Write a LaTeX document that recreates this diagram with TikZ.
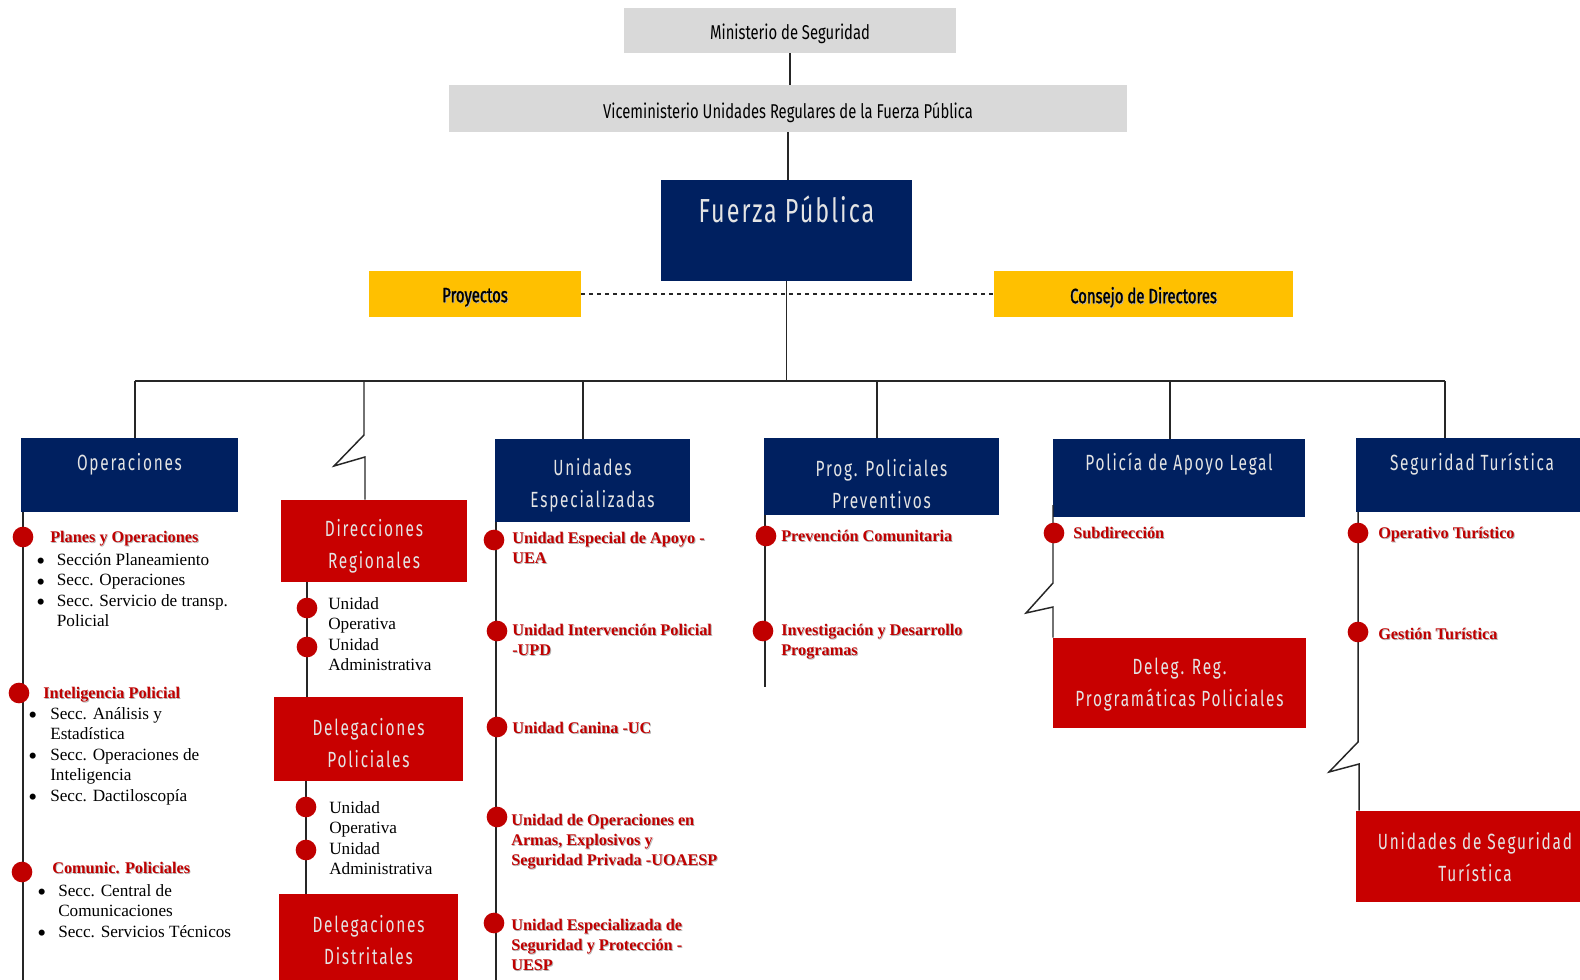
\documentclass[tikz,border=0pt]{standalone}
\usepackage{fontspec}
\setmainfont{Liberation Serif}
\newfontfamily\agency[FakeStretch=0.74]{Fira Sans}
\newfontfamily\agencyb[FakeStretch=0.72,FakeBold=1.2]{Fira Sans}
\newfontfamily\agencysp[FakeStretch=0.70,LetterSpace=8]{Fira Sans}
\newfontfamily\agencyf[FakeStretch=0.70,LetterSpace=6]{Fira Sans}
\definecolor{navy}{RGB}{0,32,96}
\definecolor{rojo}{RGB}{200,0,0}
\definecolor{rtext}{RGB}{192,0,0}
\definecolor{amarillo}{RGB}{255,192,0}
\definecolor{gris}{RGB}{217,217,217}
\definecolor{boxtxt}{RGB}{228,228,228}
\newcommand\blist[2]{\begin{tabular}[t]{@{}p{#1}@{}l@{}}#2\end{tabular}}
\newcommand\rlines[1]{\begin{tabular}[t]{@{}l@{}}#1\end{tabular}}
\newcommand\shad[1]{\makebox[0pt][l]{\raisebox{-0.7pt}{\hspace{0.7pt}\textcolor{black!30}{#1}}}#1}
\newcommand\bul{\smash{\raisebox{-3.6pt}{\fontsize{19}{19}\selectfont\textbullet}}}
\tikzset{
  sz/.style 2 args={minimum width=#1*0.75pt, minimum height=#2*0.75pt},
  graybox/.style={fill=gris, inner sep=0pt},
  yelbox/.style={fill=amarillo, inner sep=0pt},
  navybox/.style={fill=navy, inner sep=0pt},
  redbox/.style={fill=rojo, inner sep=0pt},
  graylbl/.style={text=black, anchor=center, inner sep=0pt, font=\agency\fontsize{15}{17}\selectfont},
  yellbl/.style={text=black, anchor=center, inner sep=0pt, font=\agencyb\fontsize{15.5}{18}\selectfont},
  toplbl/.style={text=boxtxt, anchor=center, inner sep=0pt, align=center, font=\agencysp\fontsize{16.5}{24}\selectfont},
  conn/.style={draw=black!85, line width=1.1pt},
  dashconn/.style={draw=black!85, line width=1pt, dashed},
  dot/.style={circle, fill=rtext, inner sep=0pt, minimum size=15.5pt},
  rt/.style={anchor=base west, inner sep=0pt, yshift=-1.1pt, text=rtext, font=\bfseries\fontsize{12.2}{15}\selectfont},
  bt/.style={anchor=base west, inner sep=0pt, text=black, font=\fontsize{12.9}{15.4}\selectfont},
}
\begin{document}
\begin{tikzpicture}[x=0.75pt,y=-0.75pt]
\useasboundingbox (0,0) rectangle (1580,980);

% top hierarchy
\node[graybox, sz={332}{45}, label={[graylbl, yshift=-26.5*0.75pt]north:Ministerio de Seguridad}] (m) at (790,30.5) {};
\node[graybox, sz={678}{47}, label={[graylbl, yshift=-27.5*0.75pt]north:Viceministerio Unidades Regulares de la Fuerza Pública}] (v) at (788,108.5) {};
\node[navybox, sz={251}{101}, label={[toplbl, font=\agencyf\fontsize{25}{28}\selectfont, yshift=-30*0.75pt]north:Fuerza Pública}] (f) at (786.5,230.5) {};
\node[yelbox, sz={212}{46}, label={[yellbl, yshift=-27*0.75pt]north:\shad{Proyectos}}] (proy) at (475,294) {};
\node[yelbox, sz={299}{46}, label={[yellbl, yshift=-27*0.75pt]north:\shad{Consejo de Directores}}] (cons) at (1143.5,294) {};

\draw[conn] (m.south) -- (m.south |- v.north);
\draw[conn] (v.south) -- (v.south |- f.north);
\draw[dashconn] (proy.east) -- (cons.west);

% bus
\coordinate (bus) at (786,381);
\coordinate (b1) at (135,381);
\coordinate (b2) at (364,381);
\coordinate (b3) at (583,381);
\coordinate (b4) at (877,381);
\coordinate (b5) at (1170,381);
\coordinate (b6) at (1445,381);
\draw[conn] (f.south) -- (f.south |- bus);
\draw[conn] (b1) -- (b6);

% second level boxes
\node[navybox, sz={217}{74}, label={[toplbl, yshift=-27*0.75pt]north:Operaciones}] (ops) at (129.5,475) {};
\node[navybox, sz={195}{83}, label={[toplbl, yshift=-46.5*0.75pt]north:{Unidades\\Especializadas}}] (ue) at (592.5,480.5) {};
\node[navybox, sz={235}{77}, label={[toplbl, yshift=-46.5*0.75pt]north:{Prog. Policiales\\Preventivos}}] (pp) at (881.5,476.5) {};
\node[navybox, sz={252}{78}, label={[toplbl, yshift=-25*0.75pt]north:Policía de Apoyo Legal}] (pal) at (1179,478) {};
\node[navybox, sz={224}{74}, label={[toplbl, xshift=3pt, yshift=-26*0.75pt]north:Seguridad Turística}] (st) at (1468,475) {};

\node[redbox, sz={186}{82}, label={[toplbl, yshift=-46.5*0.75pt]north:{Direcciones\\Regionales}}] (dir) at (374,541) {};
\node[redbox, sz={189}{84}, label={[toplbl, yshift=-46.5*0.75pt]north:{Delegaciones\\Policiales}}] (delp) at (368.5,739) {};
\node[redbox, sz={179}{86}, label={[toplbl, yshift=-46.5*0.75pt]north:{Delegaciones\\Distritales}}] (deld) at (368.5,937) {};
\node[redbox, sz={253}{90}, label={[toplbl, yshift=-46.5*0.75pt]north:{Deleg. Reg.\\Programáticas Policiales}}] (drp) at (1179.5,683) {};
\node[redbox, sz={224}{91}, label={[toplbl, xshift=7*0.75pt, yshift=-46.5*0.75pt]north:{Unidades de Seguridad\\Turística}}] (ust) at (1468,856.5) {};

% drops
\draw[conn] (b1) -- (b1 |- ops.north);
\draw[conn] (b3) -- (b3 |- ue.north);
\draw[conn] (b4) -- (b4 |- pp.north);
\draw[conn] (b5) -- (b5 |- pal.north);
\draw[conn] (b6) -- (b6 |- st.north);
\coordinate (z1) at (364,435);
\coordinate (z2) at (365,457);
\draw[conn] (b2) -- (z1) -- (334,466) -- (z2) -- (z2 |- dir.north);

% Operaciones timeline
\coordinate (o1) at (23,512);
\draw[conn] (o1) -- (23,980);
\node[dot] (d11) at (23,537) {};
\node[dot] (d12) at (19,693) {};
\node[dot] (d13) at (22,872) {};
\node[rt] (t11) at (50,541) {\shad{Planes y Operaciones}};
\node[rt] (t12) at (43,697) {\shad{Inteligencia Policial}};
\node[rt] (t13) at (52,872) {\shad{Comunic. Policiales}};
\node[bt] (l11) at (36,565) {\blist{15.5pt}{\bul & Sección Planeamiento\\ \bul & Secc. Operaciones\\ \bul & Secc. Servicio de transp.\\ & Policial}};
\node[bt] (l12) at (28,719) {\blist{16.5pt}{\bul & Secc. Análisis y\\ & Estadística\\ \bul & Secc. Operaciones de\\ & Inteligencia\\ \bul & Secc. Dactiloscopía}};
\node[bt] (l13) at (37,896) {\blist{15.75pt}{\bul & Secc. Central de\\ & Comunicaciones\\ \bul & Secc. Servicios Técnicos}};

% Direcciones timeline
\coordinate (r1) at (307,582);
\draw[conn] (r1) -- (r1 |- delp.north);
\node[dot] (d21) at (307,608) {};
\node[dot] (d22) at (307,647) {};
\node[bt] (l21) at (328,609) {\rlines{Unidad\\Operativa\\Unidad\\Administrativa}};
\coordinate (r2) at (306,781);
\draw[conn] (r2) -- (r2 |- deld.north);
\node[dot] (d23) at (306,807) {};
\node[dot] (d24) at (306,850) {};
\node[bt] (l22) at (329,813) {\rlines{Unidad\\Operativa\\Unidad\\Administrativa}};

% Unidades Especializadas timeline
\coordinate (u1) at (496,522);
\draw[conn] (u1) -- (496,980);
\node[dot] (d31) at (494,540) {};
\node[dot] (d32) at (497,631) {};
\node[dot] (d33) at (497,727) {};
\node[dot] (d34) at (497,817) {};
\node[dot] (d35) at (494,923) {};
\node[rt] (t31) at (512,542) {\shad{\rlines{Unidad Especial de Apoyo -\\UEA}}};
\node[rt] (t32) at (512,634) {\shad{\rlines{Unidad Intervención Policial\\-UPD}}};
\node[rt] (t33) at (512,732) {\shad{Unidad Canina -UC}};
\node[rt] (t34) at (511,824) {\shad{\rlines{Unidad de Operaciones en\\Armas, Explosivos y\\Seguridad Privada -UOAESP}}};
\node[rt] (t35) at (511,929) {\shad{\rlines{Unidad Especializada de\\Seguridad y Protección -\\UESP}}};

% Prog. Policiales timeline
\coordinate (p1) at (765,515);
\draw[conn] (p1) -- (765,687);
\node[dot] (d41) at (766,536) {};
\node[dot] (d42) at (763,631) {};
\node[rt] (t41) at (781,540) {\shad{Prevención Comunitaria}};
\node[rt] (t42) at (781,634) {\shad{\rlines{Investigación y Desarrollo\\Programas}}};

% Policia de Apoyo Legal timeline
\coordinate (a1) at (1053,505);
\coordinate (a2) at (1053,607);
\draw[conn] (a1) -- (1053,583) -- (1026,613) -- (a2) -- (a2 |- drp.north);
\node[dot] (d51) at (1054,533) {};
\node[rt] (t51) at (1073,537) {\shad{Subdirección}};

% Seguridad Turistica timeline
\coordinate (s1) at (1358,512);
\coordinate (s2) at (1359,764);
\draw[conn] (s1) -- (1358,742) -- (1329,772) -- (s2) -- (s2 |- ust.north);
\node[dot] (d61) at (1358,533) {};
\node[dot] (d62) at (1358,632) {};
\node[rt] (t61) at (1378,537) {\shad{Operativo Turístico}};
\node[rt] (t62) at (1378,638) {\shad{Gestión Turística}};
\end{tikzpicture}
\end{document}
